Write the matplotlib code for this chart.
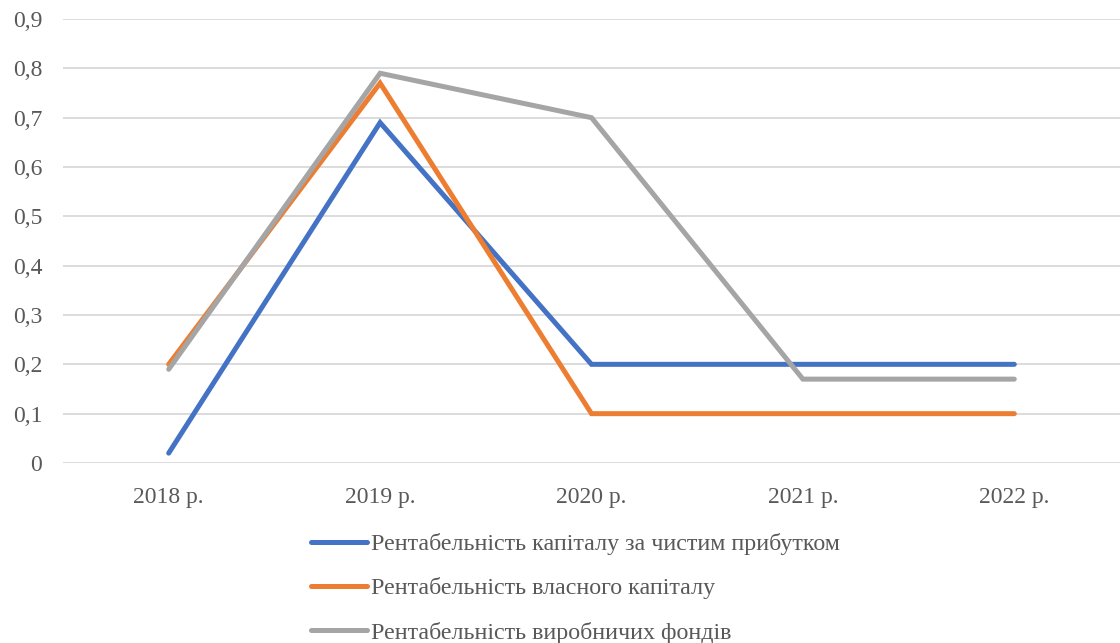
#coding: utf-8
import matplotlib
matplotlib.use('Agg')
import matplotlib.pyplot as plt
from matplotlib.ticker import FuncFormatter

plt.rcParams['font.family'] = ['Liberation Serif', 'DejaVu Serif']

years = ['2018 р.', '2019 р.', '2020 р.', '2021 р.', '2022 р.']
names = ['Рентабельність капіталу за чистим прибутком',
         'Рентабельність власного капіталу',
         'Рентабельність виробничих фондів']
roc_net = [0.02, 0.69, 0.2, 0.2, 0.2]
roe = [0.2, 0.77, 0.1, 0.1, 0.1]
ro_funds = [0.19, 0.79, 0.7, 0.17, 0.17]
colors = ['#4472c4', '#ed7d31', '#a5a5a5']

txt = '#595959'

fig = plt.figure(figsize=(11.2, 6.43), dpi=100)
ax = fig.add_axes([63/1120, 1-463/643, 1-63/1120, (463-19)/643])

x = range(len(years))
for vals, c, n in zip([roc_net, roe, ro_funds], colors, names):
	ax.plot(x, vals, color=c, lw=3.6, solid_capstyle='round', solid_joinstyle='miter', label=n)

ax.set_xlim(-0.5, len(years)-0.5)
ax.set_ylim(0, 0.9)
ax.set_yticks([i/10 for i in range(10)])
ax.yaxis.set_major_formatter(FuncFormatter(lambda v, p: '0' if v == 0 else ('%.1f' % v).replace('.', ',')))
ax.set_xticks(list(x))
ax.set_xticklabels(years)
ax.grid(axis='y', color='#d9d9d9', lw=1.3)
ax.set_axisbelow(True)
for s in ax.spines.values():
	s.set_visible(False)
ax.tick_params(length=0, labelsize=17, colors=txt)
ax.tick_params(axis='y', pad=15)
ax.tick_params(axis='x', pad=17)

leg = fig.legend(loc='upper left', bbox_to_anchor=(311/1120, 1-533/643), frameon=False,
	fontsize=17.3, handlelength=2.35, handletextpad=0.15, labelspacing=0.93, borderpad=0, borderaxespad=0)
for t in leg.get_texts():
	t.set_color(txt)

fig.savefig('out.png', dpi=100)
